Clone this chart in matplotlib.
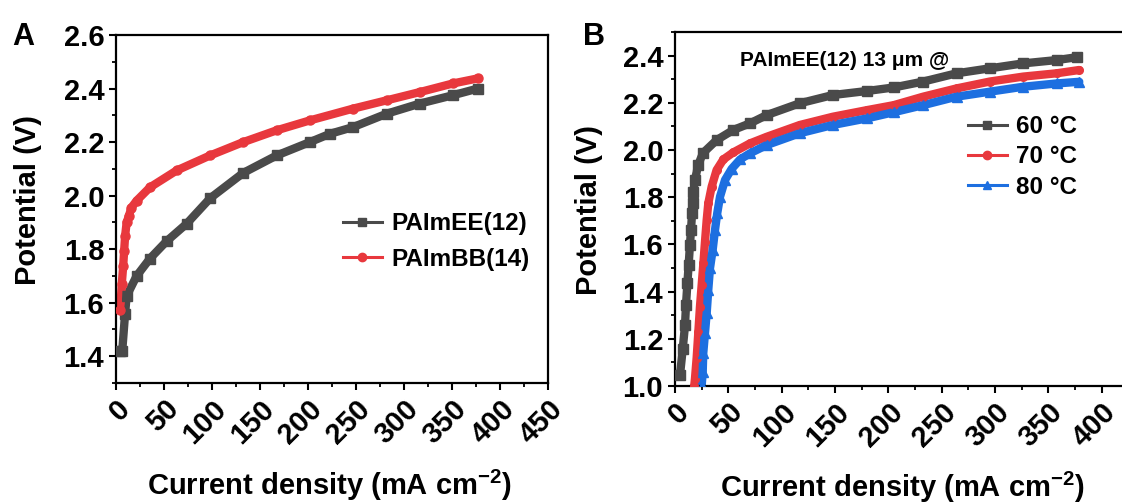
import matplotlib

matplotlib.use("Agg")

import matplotlib.pyplot as plt
from matplotlib.lines import Line2D
from matplotlib.ticker import MultipleLocator

plt.rcParams["font.family"] = ["Liberation Sans", "DejaVu Sans"]
plt.rcParams["font.weight"] = "bold"
plt.rcParams["mathtext.fontset"] = "custom"
plt.rcParams["mathtext.rm"] = "Liberation Sans"
plt.rcParams["mathtext.bf"] = "Liberation Sans:bold"

# panel A: polarization curves of the two membranes
a_ee_j = [4.5, 6.5, 9.4, 11.1, 21.5, 35.4, 52.8, 73.6, 98, 132.6, 167.4, 202, 223,
          247, 282, 316.7, 351, 377]
a_ee_v = [1.42, 1.42, 1.556, 1.625, 1.70, 1.765, 1.83, 1.895, 1.99, 2.085, 2.15, 2.2,
          2.231, 2.256, 2.306, 2.344, 2.375, 2.40]
a_bb_j = [4.5, 6.0, 7.5, 8.5, 9.5, 11.1, 13.5, 16, 21.5, 35.4, 63.2, 98, 132.6, 167.4,
          202, 247, 282, 316.7, 351, 377]
a_bb_v = [1.574, 1.669, 1.738, 1.794, 1.85, 1.90, 1.925, 1.955, 1.981, 2.031, 2.094,
          2.15, 2.2, 2.244, 2.281, 2.325, 2.356, 2.387, 2.419, 2.438]

# panel B: PAImEE(12) at three temperatures
b_60_j = [4.7, 7.2, 9.4, 10.3, 11.6, 12.8, 14, 15, 16, 16.6, 17.2, 18.7, 21.7, 26.2,
          39, 54.7, 70.3, 86, 117, 148, 180, 205, 232.7, 264, 295, 326.4, 357.7, 376.5]
b_60_v = [1.047, 1.155, 1.258, 1.343, 1.435, 1.513, 1.597, 1.661, 1.733, 1.775, 1.823,
          1.873, 1.936, 1.987, 2.042, 2.085, 2.113, 2.148, 2.198, 2.233, 2.25, 2.265,
          2.29, 2.325, 2.346, 2.367, 2.381, 2.393]
b_70_j = [18, 18.7, 20.3, 21.9, 23.4, 25, 26.6, 28.1, 29.7, 31.2, 34.4, 39, 45.3, 54.7,
          70.3, 86, 117, 148, 180, 205, 232.7, 264, 295, 326.4, 357.7, 379]
b_70_v = [1.0, 1.03, 1.119, 1.23, 1.336, 1.428, 1.52, 1.611, 1.703, 1.774, 1.845, 1.915,
          1.96, 1.99, 2.028, 2.056, 2.106, 2.141, 2.169, 2.19, 2.226, 2.261, 2.29, 2.311,
          2.325, 2.339]
b_80_j = [25, 26, 26.5, 28.1, 29.7, 31.2, 32.8, 35.3, 37.5, 39.6, 42.2, 46.9, 53.1, 61,
          70.3, 86, 117, 148, 180, 205, 232.7, 264, 295, 326.4, 357.7, 379]
b_80_v = [1.0, 1.061, 1.139, 1.223, 1.308, 1.407, 1.499, 1.576, 1.661, 1.732, 1.802,
          1.873, 1.92, 1.96, 1.986, 2.021, 2.071, 2.106, 2.134, 2.16, 2.19, 2.226, 2.247,
          2.268, 2.282, 2.289]

GRAY = "#4a4a4a"
RED = "#e8383d"
BLUE = "#1d6fe0"
XLABEL = r"Current density (mA cm$^{\mathbf{-2}}$)"


def style_axes(ax, xmax_label):
    for s in ax.spines.values():
        s.set_linewidth(1.6)
    ax.tick_params(which="major", direction="out", length=5, width=1.5, labelsize=21)
    ax.tick_params(which="minor", direction="out", length=3, width=1.3)
    ax.set_xticks(range(0, xmax_label + 1, 50))
    ax.xaxis.set_minor_locator(MultipleLocator(25))
    ax.yaxis.set_major_locator(MultipleLocator(0.2))
    ax.yaxis.set_minor_locator(MultipleLocator(0.1))
    ax.yaxis.set_major_formatter(plt.FormatStrFormatter("%.1f"))
    for lbl in ax.get_xticklabels():
        lbl.set_rotation(45)
        lbl.set_ha("right")
        lbl.set_rotation_mode("anchor")
    ax.set_xlabel(XLABEL, fontsize=21, fontweight="bold")
    ax.set_ylabel("Potential (V)", fontsize=21, fontweight="bold")


def band(ax, x, y, color, marker, ms):
    ax.plot(x, y, color=color, lw=6, solid_capstyle="round", zorder=2)
    ax.plot(x, y, color=color, lw=1.5, marker=marker, ms=ms, zorder=3)


def handle(color, marker):
    return Line2D([], [], color=color, lw=2.2, marker=marker, ms=6)


fig = plt.figure(figsize=(11.22, 5.04), dpi=100)

# ---- panel A
ax1 = fig.add_axes([116 / 1122, 1 - 383 / 504, 432 / 1122, 348 / 504])
band(ax1, a_ee_j, a_ee_v, GRAY, "s", 6.5)
band(ax1, a_bb_j, a_bb_v, RED, "o", 6.5)
ax1.set_xlim(0, 450)
ax1.set_ylim(1.3, 2.6)
style_axes(ax1, 450)
ax1.xaxis.set_label_coords(0.493, -0.245)
ax1.yaxis.set_label_coords(-0.171, 0.526)
ax1.legend([handle(GRAY, "s"), handle(RED, "o")], ["PAImEE(12)", "PAImBB(14)"],
           loc="upper left", bbox_to_anchor=(0.525, 0.49), frameon=False,
           borderpad=0, borderaxespad=0, handlelength=1.6, handletextpad=0.4,
           labelspacing=0.5, prop={"size": 17.5, "weight": "bold"})

# ---- panel B (right edge runs off the figure like the original crop)
ax2 = fig.add_axes([675 / 1122, 1 - 386 / 504, 480 / 1122, 354 / 504])
band(ax2, b_60_j, b_60_v, GRAY, "s", 6.5)
band(ax2, b_70_j, b_70_v, RED, "o", 5.5)
band(ax2, b_80_j, b_80_v, BLUE, "^", 6.5)
ax2.set_xlim(0, 450)
ax2.set_ylim(1.0, 2.5)
style_axes(ax2, 400)
ax2.xaxis.set_label_coords(0.473, -0.238)
ax2.yaxis.set_label_coords(-0.15, 0.497)
ax2.text(61, 2.38, "PAImEE(12) 13 μm @", fontsize=15, fontweight="bold",
         ha="left", va="center")
ax2.legend([handle(GRAY, "s"), handle(RED, "o"), handle(BLUE, "^")],
           ["60 °C", "70 °C", "80 °C"],
           loc="upper left", bbox_to_anchor=(0.61, 0.765), frameon=False,
           borderpad=0, borderaxespad=0, handlelength=1.6, handletextpad=0.4,
           labelspacing=0.3, prop={"size": 17.5, "weight": "bold"})

fig.text(12 / 1122, 1 - 45 / 504, "A", fontsize=22, fontweight="bold", va="baseline")
fig.text(583 / 1122, 1 - 45 / 504, "B", fontsize=22, fontweight="bold", va="baseline")

fig.savefig("out.png", dpi=100)
